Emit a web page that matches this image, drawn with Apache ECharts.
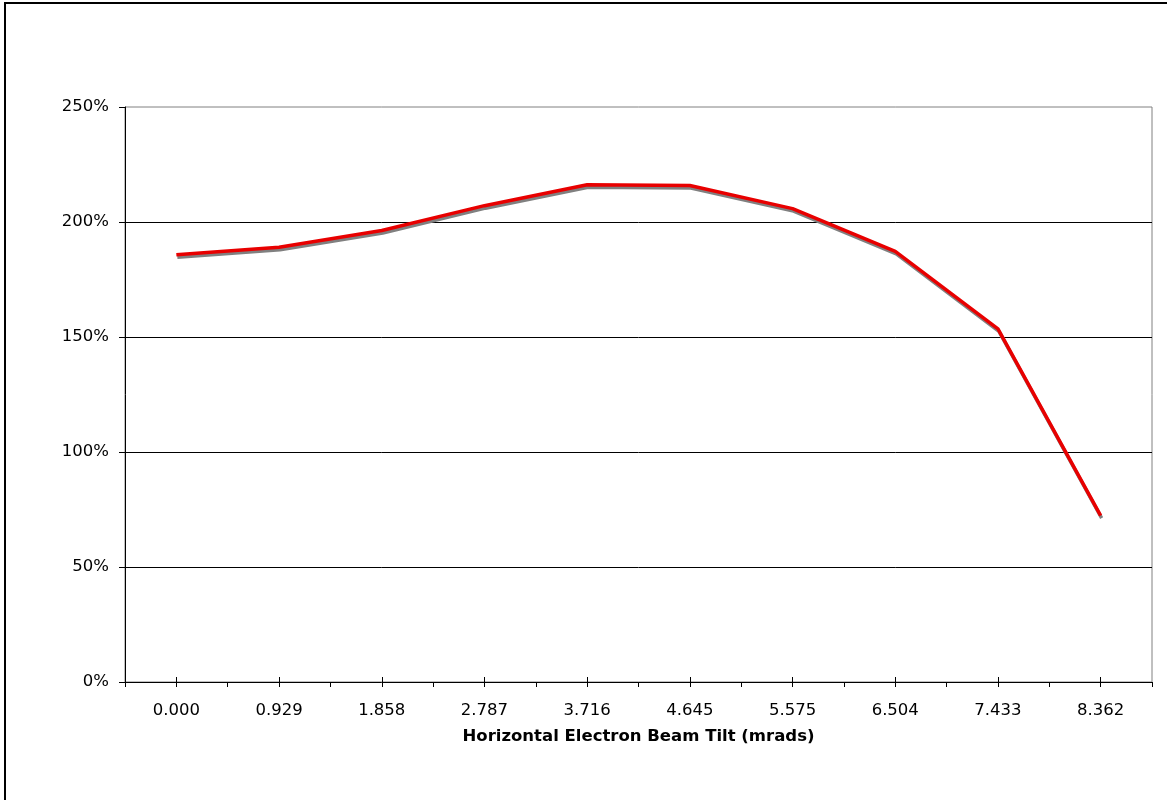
<!DOCTYPE html>
<html>
<head>
<meta charset="utf-8">
<script src="https://cdn.jsdelivr.net/npm/echarts@6/dist/echarts.min.js"></script>
<style>
html,body{margin:0;padding:0;background:#fff;}
#chart{width:1167px;height:800px;}
</style>
</head>
<body>
<div id="chart"></div>
<script>
var categories = ['0.000','0.929','1.858','2.787','3.716','4.645','5.575','6.504','7.433','8.362'];
var values = [185.8, 189.0, 196.3, 207.1, 216.2, 215.9, 205.8, 187.2, 153.5, 72.3];
var yTicks = [0, 50, 100, 150, 200, 250];
var xTitle = 'Horizontal Electron Beam Tilt (mrads)';

var FONT = 'DejaVu Sans';
var chart = echarts.init(document.getElementById('chart'), null, {renderer:'canvas'});

function tickAxis(inside) {
  return {
    type: 'category',
    data: categories,
    position: 'bottom',
    boundaryGap: true,
    gridIndex: 0,
    axisLine: {show: false},
    axisTick: {show: true, alignWithLabel: true, inside: inside, length: 5, interval: 0,
               lineStyle: {color: '#000', width: 1}},
    axisLabel: {show: false, interval: 0},
    splitLine: {show: false}
  };
}

chart.setOption({
  animation: false,
  backgroundColor: '#fff',
  graphic: [{
    type: 'rect',
    shape: {x: 5, y: 3, width: 1300, height: 1000},
    style: {fill: 'none', stroke: '#000', lineWidth: 2},
    silent: true,
    z: 100
  }],
  grid: {
    left: 125, top: 107, right: 15, bottom: 118,
    show: true, borderColor: '#808080', borderWidth: 1, backgroundColor: 'transparent'
  },
  xAxis: [{
    type: 'category',
    data: categories,
    position: 'bottom',
    boundaryGap: true,
    axisLine: {show: true, lineStyle: {color: '#000', width: 1}},
    axisTick: {show: true, inside: false, length: 5, interval: 0, lineStyle: {color: '#000'}},
    axisLabel: {interval: 0, margin: 20, color: '#000', fontFamily: FONT, fontSize: 16.5},
    name: xTitle,
    nameLocation: 'middle',
    nameGap: 46,
    nameTextStyle: {color: '#000', fontFamily: FONT, fontSize: 16.5, fontWeight: 'bold'},
    splitLine: {show: false}
  }, tickAxis(false), tickAxis(true)],
  yAxis: {
    type: 'value',
    min: yTicks[0],
    max: yTicks[yTicks.length - 1],
    interval: yTicks[1] - yTicks[0],
    axisLine: {show: true, lineStyle: {color: '#000', width: 1}},
    axisTick: {show: true, inside: false, length: 6, lineStyle: {color: '#000'}},
    axisLabel: {margin: 16, color: '#000', fontFamily: FONT, fontSize: 16.5, formatter: '{value}%'},
    splitLine: {show: true, showMinLine: false, showMaxLine: false, lineStyle: {color: '#000', width: 1}}
  },
  series: [{
    type: 'line',
    xAxisIndex: 0,
    data: values,
    symbol: 'none',
    smooth: false,
    lineStyle: {
      color: '#e80000', width: 3.5,
      shadowColor: '#808080', shadowBlur: 0, shadowOffsetX: 1, shadowOffsetY: 2.5
    },
    z: 5
  }]
});
</script>
</body>
</html>
